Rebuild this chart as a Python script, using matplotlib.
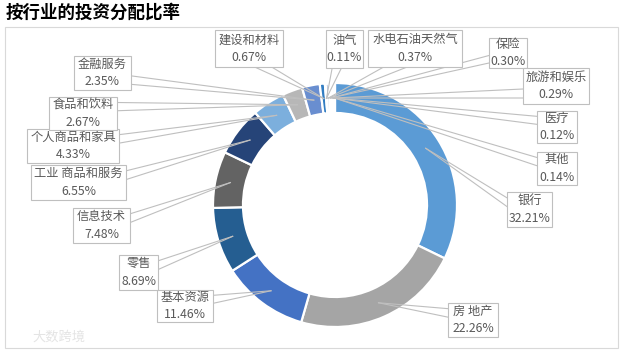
import numpy as np
import matplotlib
matplotlib.use('Agg')
import matplotlib.pyplot as plt
from matplotlib.patches import Rectangle

plt.rcParams['font.family'] = ['Noto Sans CJK SC', 'DejaVu Sans']

# data (clockwise from 12 o'clock)
sectors = ['银行', '房 地产', '基本资源', '零售', '信息技术', '工业 商品和服务',
           '个人商品和家具', '食品和饮料', '金融服务', '建设和材料', '油气',
           '水电石油天然气', '保险', '旅游和娱乐', '医疗', '其他']
shares = [32.21, 22.26, 11.46, 8.69, 7.48, 6.55, 4.33, 2.67, 2.35, 0.67, 0.11,
          0.37, 0.30, 0.29, 0.12, 0.14]
colors = ['#5B9BD5', '#A5A5A5', '#4472C4', '#255E91', '#636363', '#264478',
          '#7CAFDD', '#B7B7B7', '#698ED0', '#327DC2', '#848484', '#335AA1',
          '#9DC3E6', '#C9C9C9', '#8FAADC', '#1F4E79']

# label boxes in pixels (x0, y0, x1, y1), y from top
boxes = [(507, 192, 552, 227), (448, 303, 498, 337), (157, 290, 213, 322),
         (119, 255, 158, 290), (73, 208, 130, 243), (31, 165, 126, 200),
         (27, 129, 119, 163), (49, 97, 117, 130), (74, 56, 131, 90),
         (215, 30, 283, 67), (326, 30, 363, 68), (368, 30, 462, 67),
         (489, 38, 527, 68), (523, 68, 589, 104), (537, 111, 577, 143),
         (537, 152, 577, 185)]

W, H = 627, 352
cx, cy, R, ring = 335, 205, 122, 30
line_c = '#BFBFBF'
txt_c = '#595959'


def Y(py):
    return H - py


fig = plt.figure(figsize=(W / 100, H / 100), dpi=100)
ax = fig.add_axes([0, 0, 1, 1])

wedges, _ = ax.pie(shares, colors=colors, startangle=90, counterclock=False,
                   center=(cx, Y(cy)), radius=R,
                   wedgeprops=dict(width=ring, edgecolor='white', linewidth=1.6))
ax.set_xlim(0, W)
ax.set_ylim(0, H)
ax.set_aspect('auto')
ax.axis('off')

# chart border
ax.add_patch(Rectangle((5, Y(348)), 613, 321, fill=False, edgecolor='#D9D9D9',
                       linewidth=0.8, zorder=1))

r_mid = R - ring / 2
for w, name, val, (x0, y0, x1, y1) in zip(wedges, sectors, shares, boxes):
    ang = np.deg2rad((w.theta1 + w.theta2) / 2)
    axp = cx + r_mid * np.cos(ang)
    ayp = cy - r_mid * np.sin(ang)
    bw, bh = x1 - x0, y1 - y0
    bcx, bcy = (x0 + x1) / 2, (y0 + y1) / 2
    dx, dy = axp - bcx, ayp - bcy
    # wedge callout base, as in the office preset shape
    if abs(dy) / bh > abs(dx) / bw:
        ey = y1 if dy > 0 else y0
        if dx < 0:
            xs = (x0 + bw * 2 / 12, x0 + bw * 5 / 12)
        else:
            xs = (x0 + bw * 7 / 12, x0 + bw * 10 / 12)
        base = [(xs[0], ey), (xs[1], ey)]
    else:
        ex = x1 if dx > 0 else x0
        if dy < 0:
            ys = (y0 + bh * 2 / 12, y0 + bh * 5 / 12)
        else:
            ys = (y0 + bh * 7 / 12, y0 + bh * 10 / 12)
        base = [(ex, ys[0]), (ex, ys[1])]
    for bx, by in base:
        ax.plot([bx, axp], [Y(by), Y(ayp)], color=line_c, linewidth=0.8,
                zorder=3)
    ax.add_patch(Rectangle((x0, Y(y1)), bw, bh, facecolor='white',
                           edgecolor=line_c, linewidth=0.8, zorder=4))
    ax.text(bcx, Y(bcy), f'{name}\n{val:.2f}%', ha='center', va='center',
            fontsize=8.8, color=txt_c, linespacing=1.45, zorder=5)

ax.text(6, Y(13), '按行业的投资分配比率', fontsize=12.6, fontweight='bold',
        color='black', ha='left', va='center')
ax.text(32, Y(337), '大数跨境', fontsize=9.5, color='#E4E4E4', ha='left',
        va='center')

fig.savefig('out.png', dpi=100)
